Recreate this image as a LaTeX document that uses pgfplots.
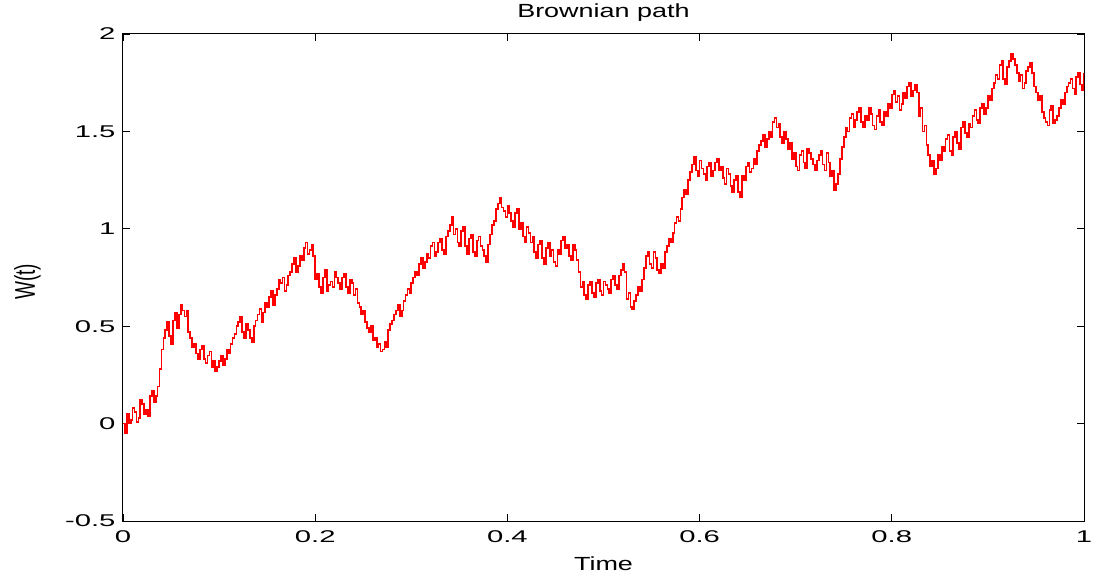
\documentclass[border=0pt]{standalone}
\usepackage{fontspec}
\setmainfont{Liberation Sans}
\usepackage{graphicx}
\usepackage{pgfplots}
\usepackage{pgfplotstable}
\pgfplotsset{compat=1.18}

% widened sans lettering, as in the exported figure
\newcommand\tl[1]{\scalebox{1.72}[1]{#1}}
\newcommand\lb[1]{\scalebox{1.42}[1]{#1}}

% Sampled path W(t_i), t_i = i/500
\pgfplotstableread{
w
0.00
-0.05
0.05
0.00
0.02
0.08
0.06
0.01
0.03
0.12
0.10
0.05
0.07
0.04
0.14
0.17
0.11
0.14
0.19
0.28
0.38
0.44
0.48
0.52
0.45
0.41
0.53
0.57
0.49
0.56
0.61
0.58
0.55
0.58
0.47
0.44
0.39
0.41
0.36
0.33
0.38
0.40
0.33
0.31
0.35
0.37
0.29
0.32
0.27
0.29
0.32
0.35
0.30
0.33
0.38
0.36
0.41
0.44
0.46
0.50
0.52
0.55
0.47
0.44
0.51
0.48
0.44
0.42
0.50
0.53
0.56
0.59
0.52
0.57
0.62
0.60
0.65
0.68
0.61
0.66
0.69
0.74
0.72
0.75
0.68
0.71
0.76
0.78
0.82
0.85
0.78
0.81
0.86
0.84
0.90
0.93
0.87
0.89
0.92
0.86
0.74
0.77
0.70
0.67
0.75
0.79
0.68
0.71
0.73
0.70
0.78
0.75
0.72
0.69
0.75
0.77
0.70
0.67
0.74
0.72
0.66
0.69
0.62
0.60
0.56
0.58
0.52
0.49
0.47
0.50
0.43
0.44
0.39
0.41
0.37
0.38
0.42
0.39
0.48
0.51
0.53
0.56
0.58
0.61
0.55
0.58
0.63
0.66
0.69
0.67
0.72
0.75
0.78
0.76
0.82
0.85
0.80
0.83
0.87
0.85
0.91
0.93
0.86
0.88
0.93
0.95
0.89
0.87
0.96
0.99
1.02
1.06
0.97
1.00
0.93
0.91
0.99
1.01
0.91
0.87
0.95
0.97
0.88
0.86
0.94
0.96
0.91
0.89
0.86
0.83
0.92
0.97
1.02
1.04
1.10
1.13
1.16
1.11
1.09
1.06
1.12
1.08
1.04
1.01
1.08
1.10
1.00
1.03
0.96
0.93
1.01
0.98
0.93
0.96
0.88
0.85
0.92
0.94
0.85
0.82
0.90
0.93
0.86
0.89
0.83
0.81
0.89
0.87
0.94
0.96
0.90
0.92
0.86
0.84
0.92
0.89
0.84
0.78
0.70
0.73
0.66
0.64
0.71
0.73
0.67
0.65
0.72
0.74
0.68
0.66
0.73
0.71
0.69
0.67
0.74
0.76
0.71
0.69
0.76
0.79
0.82
0.78
0.64
0.67
0.60
0.59
0.63
0.66
0.70
0.68
0.74
0.80
0.86
0.88
0.82
0.80
0.88
0.85
0.79
0.77
0.82
0.80
0.88
0.91
0.95
0.93
0.98
1.03
1.06
1.04
1.10
1.16
1.20
1.18
1.25
1.29
1.33
1.37
1.30
1.27
1.35
1.31
1.28
1.25
1.32
1.34
1.27
1.30
1.34
1.36
1.30
1.32
1.26
1.23
1.31
1.28
1.22
1.19
1.25
1.27
1.19
1.16
1.27
1.25
1.32
1.34
1.29
1.31
1.36
1.33
1.40
1.43
1.45
1.48
1.42
1.46
1.50
1.47
1.55
1.57
1.52
1.54
1.47
1.44
1.50
1.46
1.41
1.44
1.36
1.39
1.32
1.30
1.38
1.40
1.34
1.31
1.41
1.39
1.36
1.33
1.30
1.35
1.38
1.40
1.33
1.30
1.39
1.34
1.27
1.30
1.20
1.23
1.28
1.36
1.42
1.47
1.52
1.50
1.57
1.59
1.52
1.56
1.60
1.62
1.55
1.52
1.58
1.56
1.62
1.59
1.53
1.51
1.58
1.61
1.55
1.53
1.60
1.58
1.64
1.62
1.69
1.71
1.65
1.68
1.61
1.64
1.70
1.67
1.73
1.75
1.68
1.71
1.74
1.70
1.58
1.62
1.50
1.53
1.43
1.38
1.32
1.35
1.28
1.31
1.38
1.35
1.42
1.40
1.46
1.48
1.40
1.38
1.47
1.50
1.44
1.41
1.52
1.55
1.49
1.47
1.54
1.52
1.58
1.61
1.56
1.54
1.62
1.64
1.59
1.62
1.68
1.66
1.72
1.75
1.79
1.77
1.84
1.86
1.77
1.74
1.83
1.86
1.90
1.87
1.84
1.80
1.76
1.79
1.72
1.75
1.81
1.83
1.85
1.80
1.73
1.70
1.66
1.68
1.60
1.57
1.55
1.53
1.61
1.63
1.54
1.56
1.58
1.62
1.66
1.64
1.70
1.73
1.75
1.77
1.72
1.69
1.78
1.80
1.74
1.71
1.80
}\pathdata

\begin{document}
\begin{tikzpicture}
\useasboundingbox (0,0) rectangle (1094pt,579pt);
\begin{axis}[
  scale only axis,
  width=961pt, height=487pt,
  at={(123pt,58pt)}, anchor=south west,
  xmin=0, xmax=1, ymin=-0.5, ymax=2,
  xtick={0,0.2,0.4,0.6,0.8,1},
  xticklabels={\tl{0},\tl{0.2},\tl{0.4},\tl{0.6},\tl{0.8},\tl{1}},
  ytick={-0.5,0,0.5,1,1.5,2},
  yticklabels={\tl{-0.5},\tl{0},\tl{0.5},\tl{1},\tl{1.5},\tl{2}},
  tick align=inside,
  major tick length=7pt,
  tick style={black, line width=0.8pt},
  axis line style={black, line width=1pt},
  ticklabel style={font=\fontsize{17}{19}\selectfont},
  xticklabel style={yshift=-6pt},
  yticklabel style={xshift=-4pt},
  every axis title shift=0pt,
  title={\lb{Brownian path}},
  title style={font=\fontsize{19}{21}\selectfont, at={(axis description cs:0.5,1.044)}, anchor=center},
  xlabel={\lb{Time}},
  xlabel style={font=\fontsize{19}{21}\selectfont, at={(axis description cs:0.5,-0.0883)}, anchor=center},
  ylabel={\scalebox{1}[1.5]{W(t)}},
  ylabel style={font=\fontsize{19}{21}\selectfont, at={(axis description cs:-0.0994,0.491)}, anchor=center},
]
\addplot[const plot, color=red, line width=1.7pt, line join=miter]
  table[x expr=\coordindex/500, y=w] {\pathdata};
\end{axis}
\end{tikzpicture}
\end{document}
